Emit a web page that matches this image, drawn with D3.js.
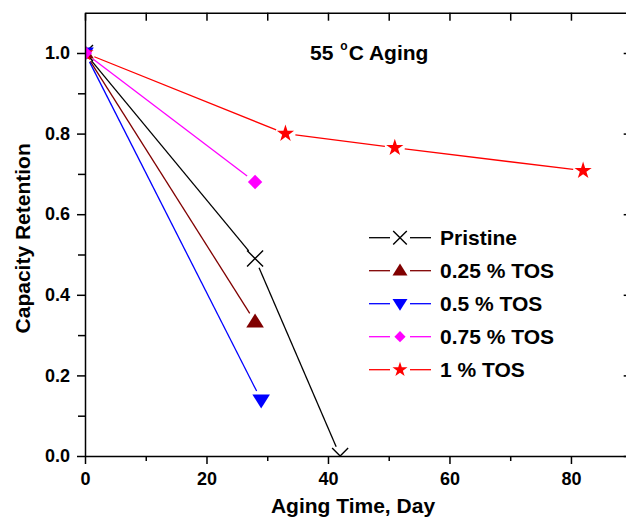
<!DOCTYPE html>
<html lang="en">
<head>
    <meta charset="UTF-8">
    <title>Capacity Retention, 55 C Aging</title>
    <style>
        body { margin: 0; background: #fff; }
        svg { display: block; font-family: "Liberation Sans", Arial, sans-serif; font-weight: bold; }
        .axis path, .axis line { stroke: #000; stroke-width: 1.5; }
        .axis text { font-size: 18px; font-weight: bold; fill: #000; }
        .minor line { stroke: #000; stroke-width: 1.5; }
        .minor path { display: none; }
    </style>
</head>
<body>
    <script src="https://d3js.org/d3.v7.min.js"></script>
    <script>
        // data
        const pristineDays = [0, 28, 42];
        const pristineRet = [1.0, 0.49, 0.0];
        const tos025Days = [0, 28];
        const tos025Ret = [1.0, 0.333];
        const tos05Days = [0, 29];
        const tos05Ret = [1.0, 0.139];
        const tos075Days = [0, 28];
        const tos075Ret = [1.0, 0.68];
        const tos1Days = [0, 33, 51, 82];
        const tos1Ret = [1.0, 0.80, 0.765, 0.708];

        const seriesNames = ['Pristine', '0.25 % TOS', '0.5 % TOS', '0.75 % TOS', '1 % TOS'];
        const seriesColors = ['#000000', '#800000', '#0000ff', '#ff00ff', '#ff0000'];
        const seriesShapes = ['cross', 'up', 'down', 'diamond', 'star'];
        const xTicks = [0, 20, 40, 60, 80];
        const xMinorTicks = [10, 30, 50, 70, 90];
        const yTicks = [0, 0.2, 0.4, 0.6, 0.8, 1.0];
        const yMinorTicks = [0.1, 0.3, 0.5, 0.7, 0.9];

        const series = [
            { days: pristineDays, ret: pristineRet },
            { days: tos025Days, ret: tos025Ret },
            { days: tos05Days, ret: tos05Ret },
            { days: tos075Days, ret: tos075Ret },
            { days: tos1Days, ret: tos1Ret }
        ].map((s, i) => ({
            name: seriesNames[i],
            color: seriesColors[i],
            shape: seriesShapes[i],
            points: s.days.map((d, j) => ({ day: d, ret: s.ret[j] }))
        }));

        const W = 626, H = 517;
        const margin = { top: 12.7, right: -5.7, bottom: 61, left: 85 };

        const svg = d3.select('body').append('svg').attr('width', W).attr('height', H);

        const xScale = d3.scaleLinear().domain([0, 90]).range([margin.left, W - margin.right]);
        const yScale = d3.scaleLinear().domain([0, 1.1]).range([H - margin.bottom, margin.top]);

        const x0 = xScale.range()[0], x1 = xScale.range()[1];
        const y0 = yScale.range()[0], y1 = yScale.range()[1];

        svg.append('clipPath').attr('id', 'plot-clip')
            .append('rect')
            .attr('x', x0).attr('y', y1).attr('width', x1 - x0).attr('height', y0 - y1);

        // marker shapes
        function markerPath(shape, big) {
            const k = big ? 1 : 0.85;
            if (shape === 'cross') {
                const r = 8 * k;
                return `M${-r},${-r}L${r},${r}M${-r},${r}L${r},${-r}`;
            }
            if (shape === 'up') {
                const w = 8.8 * k, h = 14 * k;
                return `M0,${-h * 0.6}L${w},${h * 0.4}L${-w},${h * 0.4}Z`;
            }
            if (shape === 'down') {
                const w = 8.8 * k, h = 14 * k;
                return `M0,${h * 0.6}L${w},${-h * 0.4}L${-w},${-h * 0.4}Z`;
            }
            if (shape === 'diamond') {
                const r = big ? 7.2 : 5.6;
                return `M0,${-r}L${r},0L0,${r}L${-r},0Z`;
            }
            return d3.symbol(d3.symbolStar, big ? 92 : 70)();
        }

        function drawMarker(g, shape, color, big) {
            const p = g.append('path').attr('d', markerPath(shape, big));
            if (shape === 'cross') {
                p.attr('fill', 'none').attr('stroke', color).attr('stroke-width', 1.4);
            } else {
                p.attr('fill', color);
            }
        }

        // connecting lines with a gap around each symbol
        const gap = 10;
        const lineLayer = svg.append('g').attr('clip-path', 'url(#plot-clip)');
        series.forEach((s) => {
            for (let i = 0; i < s.points.length - 1; i++) {
                const ax = xScale(s.points[i].day), ay = yScale(s.points[i].ret);
                const bx = xScale(s.points[i + 1].day), by = yScale(s.points[i + 1].ret);
                const len = Math.hypot(bx - ax, by - ay);
                const ux = (bx - ax) / len, uy = (by - ay) / len;
                lineLayer.append('line')
                    .attr('x1', ax + ux * gap).attr('y1', ay + uy * gap)
                    .attr('x2', bx - ux * gap).attr('y2', by - uy * gap)
                    .attr('stroke', s.color).attr('stroke-width', 1.3);
            }
        });

        // markers (0.75 % TOS drawn last, it sits on top at day 0)
        const markerLayer = svg.append('g').attr('clip-path', 'url(#plot-clip)');
        [0, 1, 2, 4, 3].forEach((idx) => {
            const s = series[idx];
            s.points.forEach((p) => {
                const g = markerLayer.append('g')
                    .attr('transform', `translate(${xScale(p.day)},${yScale(p.ret)})`);
                drawMarker(g, s.shape, s.color, true);
            });
        });

        // axes
        svg.append('g').attr('class', 'axis')
            .attr('transform', `translate(0,${y0})`)
            .call(d3.axisBottom(xScale).tickValues(xTicks).tickSize(8).tickPadding(8).tickSizeOuter(0));
        svg.append('g').attr('class', 'minor')
            .attr('transform', `translate(0,${y0})`)
            .call(d3.axisBottom(xScale).tickValues(xMinorTicks).tickSize(5).tickFormat(''));

        svg.append('g').attr('class', 'axis')
            .attr('transform', `translate(${x0},0)`)
            .call(d3.axisLeft(yScale).tickValues(yTicks).tickFormat(d3.format('.1f'))
                .tickSize(8).tickPadding(7).tickSizeOuter(0));
        svg.append('g').attr('class', 'minor')
            .attr('transform', `translate(${x0},0)`)
            .call(d3.axisLeft(yScale).tickValues(yMinorTicks).tickSize(7).tickFormat(''));

        // top and right frame, ticks pointing inward
        svg.append('g').attr('class', 'axis')
            .attr('transform', `translate(0,${y1})`)
            .call(d3.axisBottom(xScale).tickValues(xTicks.concat(xMinorTicks)).tickSize(8).tickFormat('').tickSizeOuter(0));
        svg.append('g').attr('class', 'axis')
            .attr('transform', `translate(${x1},0)`)
            .call(d3.axisLeft(yScale).tickValues(yTicks).tickSize(8).tickFormat('').tickSizeOuter(0));
        svg.append('g').attr('class', 'minor')
            .attr('transform', `translate(${x1},0)`)
            .call(d3.axisLeft(yScale).tickValues(yMinorTicks).tickSize(5).tickFormat(''));

        // axis titles
        svg.append('text')
            .attr('x', (x0 + 623) / 2 - 1).attr('y', 513)
            .attr('text-anchor', 'middle')
            .style('font-size', '21px')
            .text('Aging Time, Day');

        svg.append('text')
            .attr('transform', `translate(30,${(y0 + y1) / 2 + 4}) rotate(-90)`)
            .attr('text-anchor', 'middle')
            .style('font-size', '21px')
            .text('Capacity Retention');

        // annotation
        const note = svg.append('text').attr('x', 310).attr('y', 60).style('font-size', '21px');
        note.append('tspan').text('55');
        note.append('tspan').attr('dx', 7).attr('dy', -10).style('font-size', '12px').text('o');
        note.append('tspan').attr('dx', 1).attr('dy', 10).text('C Aging');

        // legend
        const legend = svg.append('g').attr('transform', 'translate(369,237.7)');
        seriesNames.forEach((name, i) => {
            const row = legend.append('g').attr('transform', `translate(0,${i * 33})`);
            row.append('line').attr('x1', 0).attr('x2', 21).attr('stroke', seriesColors[i]).attr('stroke-width', 1.3);
            row.append('line').attr('x1', 41).attr('x2', 62).attr('stroke', seriesColors[i]).attr('stroke-width', 1.3);
            const m = row.append('g').attr('transform', 'translate(31,0)');
            drawMarker(m, seriesShapes[i], seriesColors[i], false);
            row.append('text')
                .attr('x', 71).attr('dy', '0.36em')
                .style('font-size', '21px')
                .text(name);
        });
    </script>
</body>
</html>
